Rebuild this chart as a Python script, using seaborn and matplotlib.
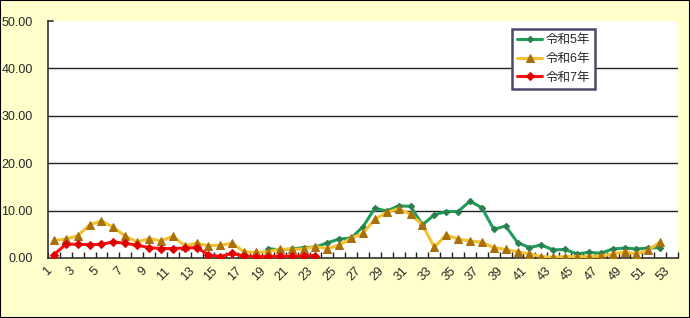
import numpy as np
import pandas as pd
import matplotlib
matplotlib.use("Agg")
import matplotlib.pyplot as plt
import seaborn as sns
from matplotlib.patches import Rectangle

# ---- data ----
weeks_all = list(range(1, 54))
tick_labels = [str(w) for w in range(1, 54, 2)]

weeks_r5 = list(range(19, 53))
r5 = [2.0, 1.7, 1.9, 2.2, 2.3, 3.2, 4.0, 4.2, 6.6, 10.5, 9.9, 11.0, 10.9, 7.0,
      9.1, 9.8, 9.8, 12.0, 10.6, 6.05, 6.75, 3.25, 2.2, 2.75, 1.7, 1.8, 0.85,
      1.2, 1.0, 1.9, 2.1, 1.9, 2.1, 2.2]

weeks_r6 = list(range(1, 53))
r6 = [3.7, 4.0, 4.7, 7.0, 7.8, 6.5, 4.6, 3.4, 4.1, 3.6, 4.6, 2.6, 3.1, 2.6,
      2.7, 3.1, 1.3, 1.2, 1.3, 1.9, 1.8, 1.9, 2.4, 2.0, 2.7, 4.2, 5.2, 8.2,
      9.6, 10.4, 9.2, 7.0, 2.25, 4.9, 4.0, 3.6, 3.3, 2.2, 1.8, 1.3, 0.9, 0.3,
      0.15, 0.3, 0.3, 0.3, 0.4, 0.85, 1.3, 0.85, 1.7, 3.4]

weeks_r7 = list(range(1, 24))
r7 = [0.7, 2.9, 2.9, 2.8, 2.9, 3.4, 3.1, 2.7, 2.2, 2.0, 2.0, 2.1, 2.2, 0.7,
      0.3, 1.0, 0.4, 0.3, 0.3, 0.4, 0.4, 0.5, 0.5]

series_names = ["令和5年", "令和6年", "令和7年"]
y_ticks = [0, 10, 20, 30, 40, 50]

# ---- style ----
sns.set_style("white")
plt.rcParams["font.family"] = ["Liberation Sans", "Noto Sans CJK JP", "DejaVu Sans"]

bg = "#FFFFCC"
fig = plt.figure(figsize=(6.9, 3.18), dpi=100, facecolor=bg)
ax = fig.add_axes([48/690, 1 - 258/318, 630/690, 237/318])
ax.set_facecolor("white")

styles = [
    dict(color="#1E9E5A", marker="D", markersize=3.2, mfc="#2E7D4F", mec="#2E7D4F"),
    dict(color="#F2C230", marker="^", markersize=5.5, mfc="#A8700C", mec="#A8700C"),
    dict(color="#FF1010", marker="D", markersize=4.5, mfc="#E00000", mec="#E00000"),
]
datasets = [(weeks_r5, r5), (weeks_r6, r6), (weeks_r7, r7)]

for (wk, vals), name, st in zip(datasets, series_names, styles):
    df = pd.DataFrame({"week": wk, "value": vals})
    sns.lineplot(data=df, x="week", y="value", ax=ax, label=name,
                 color=st["color"], linewidth=2.2, marker=st["marker"],
                 markersize=st["markersize"], markerfacecolor=st["mfc"],
                 markeredgecolor=st["mec"], zorder=3)

ax.set_xlim(0.5, 53.5)
ax.set_ylim(0, 50)
ax.set_xlabel("")
ax.set_ylabel("")

# y axis
ax.set_yticks(y_ticks)
ax.set_yticklabels([f"{v:.2f}" for v in y_ticks], fontsize=9)
ax.tick_params(axis="y", length=0, pad=11)
for v in y_ticks[1:-1]:
    ax.axhline(v, color="#222222", linewidth=1.0, zorder=1)

# x axis
ax.set_xticks(list(range(1, 54, 2)))
ax.set_xticklabels(tick_labels, fontsize=9, rotation=45, ha="right", va="top")
ax.set_xticks(np.arange(0.5, 54, 1.0), minor=True)
ax.tick_params(axis="x", which="major", length=0, pad=5)
ax.tick_params(axis="x", which="minor", length=4, direction="in", width=1.0,
               color="#222222", bottom=True)

for s in ["top", "right"]:
    ax.spines[s].set_visible(False)
for s in ["left", "bottom"]:
    ax.spines[s].set_color("#333333")
    ax.spines[s].set_linewidth(1.2)
ax.plot([0.5, 0.9], [50, 50], color="#333333", linewidth=1.2, clip_on=False)

leg = ax.legend(loc="upper left", bbox_to_anchor=((512-48)/630, (258-29)/237),
                fontsize=9, frameon=True, fancybox=False, handlelength=2.0,
                borderpad=0.4, labelspacing=0.55, handletextpad=0.3,
                borderaxespad=0)
leg.get_frame().set_edgecolor("#4A4A6A")
leg.get_frame().set_linewidth(1.8)
leg.get_frame().set_facecolor("white")
leg.get_frame().set_alpha(1)

fig.patches.append(Rectangle((0, 0), 1, 1, transform=fig.transFigure,
                             fill=False, edgecolor="black", linewidth=1.5,
                             zorder=10))

fig.savefig("out.png", dpi=100, facecolor=bg)
